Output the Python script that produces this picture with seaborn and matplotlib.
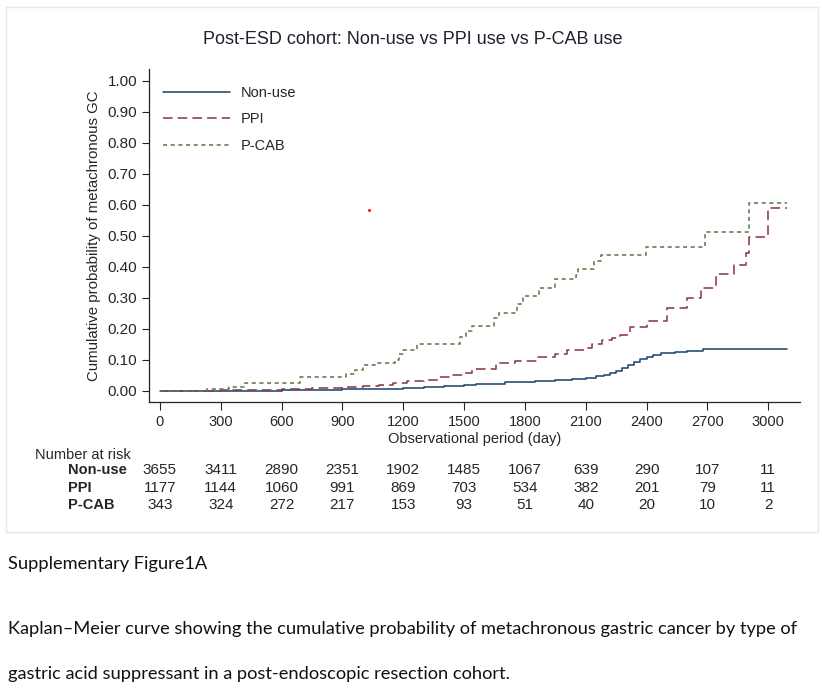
import numpy as np
import pandas as pd
import seaborn as sns
import matplotlib.pyplot as plt
from matplotlib.lines import Line2D
from matplotlib.patches import Rectangle

# 1. data
groups = ["Non-use", "PPI", "P-CAB"]

nonuse_day = [0, 200, 400, 600, 750, 900, 1000, 1100, 1200, 1300, 1400, 1500,
              1560, 1620, 1700, 1760, 1850, 1950, 2030, 2100, 2150, 2190, 2220,
              2250, 2280, 2310, 2340, 2370, 2400, 2430, 2470, 2540, 2600, 2680,
              3092]
nonuse_prob = [0.0, 0.0005, 0.0015, 0.003, 0.004, 0.005, 0.0065, 0.008, 0.010,
               0.012, 0.015, 0.018, 0.021, 0.024, 0.028, 0.030, 0.033, 0.036,
               0.040, 0.043, 0.047, 0.052, 0.058, 0.066, 0.074, 0.084, 0.094,
               0.103, 0.111, 0.117, 0.122, 0.125, 0.128, 0.134, 0.134]

ppi_day = [0, 300, 450, 600, 750, 900, 1000, 1080, 1150, 1220, 1300, 1370, 1440,
           1500, 1540, 1660, 1750, 1860, 1950, 2010, 2100, 2130, 2180, 2230, 2270,
           2320, 2400, 2500, 2600, 2670, 2745, 2830, 2890, 2905, 3000, 3092]
ppi_prob = [0.0, 0.002, 0.004, 0.006, 0.009, 0.012, 0.015, 0.019, 0.025, 0.031,
            0.037, 0.044, 0.050, 0.057, 0.072, 0.090, 0.097, 0.110, 0.120, 0.131,
            0.140, 0.152, 0.163, 0.170, 0.182, 0.205, 0.227, 0.269, 0.299, 0.331,
            0.376, 0.408, 0.445, 0.498, 0.589, 0.589]

pcab_day = [0, 230, 340, 420, 690, 920, 960, 1000, 1060, 1160, 1180, 1200, 1270,
            1480, 1510, 1540, 1650, 1670, 1760, 1790, 1870, 1950, 2050, 2060, 2140,
            2175, 2395, 2690, 2905, 3092]
pcab_prob = [0.0, 0.006, 0.012, 0.025, 0.044, 0.055, 0.068, 0.085, 0.090, 0.101,
             0.118, 0.131, 0.150, 0.173, 0.195, 0.209, 0.235, 0.253, 0.280, 0.307,
             0.333, 0.360, 0.375, 0.392, 0.418, 0.440, 0.466, 0.514, 0.608, 0.608]

risk_times = [0, 300, 600, 900, 1200, 1500, 1800, 2100, 2400, 2700, 3000]
risk_nonuse = [3655, 3411, 2890, 2351, 1902, 1485, 1067, 639, 290, 107, 11]
risk_ppi = [1177, 1144, 1060, 991, 869, 703, 534, 382, 201, 79, 11]
risk_pcab = [343, 324, 272, 217, 153, 93, 51, 40, 20, 10, 2]

# stray red dot in the original picture
stray_day = [1031]
stray_prob = [0.584]

title = "Post-ESD cohort: Non-use vs PPI use vs P-CAB use"
caption1 = "Supplementary Figure1A"
caption2 = ("Kaplan\u2013Meier curve showing the cumulative probability of "
            "metachronous gastric cancer by type of")
caption3 = "gastric acid suppressant in a post-endoscopic resection cohort."

# 2. style
sns.set_style("ticks")
plt.rcParams["font.family"] = ["Liberation Sans", "DejaVu Sans"]

colors = {"Non-use": "#1f4770", "PPI": "#8b3a48", "P-CAB": "#66774c"}
dashes = {"Non-use": "", "PPI": (6, 3.2), "P-CAB": (2.6, 2.2)}

df = pd.concat([
    pd.DataFrame({"day": d, "prob": p, "group": g})
    for g, d, p in zip(groups, [nonuse_day, ppi_day, pcab_day],
                       [nonuse_prob, ppi_prob, pcab_prob])
], ignore_index=True)

W, H = 822, 688
fig = plt.figure(figsize=(W / 100, H / 100), dpi=100)
ax = fig.add_axes([149 / W, 1 - 402 / H, 651 / W, 333 / H])

sns.lineplot(data=df, x="day", y="prob", hue="group", style="group",
             hue_order=groups, style_order=groups, palette=colors,
             dashes=dashes, estimator=None, drawstyle="steps-post",
             linewidth=1.15, legend=False, ax=ax)
sns.scatterplot(x=stray_day, y=stray_prob, color="#e8201c", s=5,
                linewidth=0, ax=ax)

ax.set_xlim(-54, 3157)
ax.set_ylim(-0.0355, 1.0387)
ax.set_xticks(risk_times)
yt = np.round(np.arange(0, 1.01, 0.1), 2)
ax.set_yticks(yt)
ax.set_yticklabels([f"{v:.2f}" for v in yt])
sns.despine(ax=ax)
for s in ["left", "bottom"]:
    ax.spines[s].set_linewidth(0.9)
    ax.spines[s].set_color("#222222")
ax.tick_params(axis="x", length=6, width=0.8, pad=3, labelsize=10.5,
               color="#222222")
ax.tick_params(axis="y", length=5, width=0.8, pad=3.5, labelsize=11,
               color="#222222")
ax.set_xlabel("Observational period (day)", fontsize=10.5, labelpad=2.5)
ax.set_ylabel("Cumulative probability of metachronous GC", fontsize=10.8,
              labelpad=5)

# legend
handles = []
for g in groups:
    h = Line2D([], [], color=colors[g], linewidth=1.15)
    if dashes[g]:
        h.set_dashes(dashes[g])
    handles.append(h)
ax.legend(handles, groups, loc="upper left", frameon=False, fontsize=10.5,
          bbox_to_anchor=(163 / W, 1 - 86 / H), bbox_transform=fig.transFigure,
          borderaxespad=0, borderpad=0, handlelength=4.6, handletextpad=0.7,
          labelspacing=0.85)

# 3. number at risk table
trans = ax.get_xaxis_transform()
fig.text(35 / W, 1 - 455 / H, "Number at risk", fontsize=10.5, va="center")
for g, counts, py in zip(groups, [risk_nonuse, risk_ppi, risk_pcab],
                         [470, 488, 505]):
    fig.text(68 / W, 1 - py / H, g, fontsize=10.5, fontweight="bold",
             va="center")
    for t, n in zip(risk_times, counts):
        ax.text(t, (402 - py) / 333, str(n), transform=trans, fontsize=11,
                ha="center", va="center")

fig.text(413 / W, 1 - 40 / H, title, fontsize=13, ha="center", va="center",
         color="#1c2230")

# light frame round the chart
fig.patches.append(Rectangle((6 / W, 1 - 532 / H), 812 / W, 525 / H,
                             transform=fig.transFigure, fill=False,
                             edgecolor="#e6e6e6", linewidth=1))

# 4. caption below the chart, fitted to the width of the long line
cap_font = ["Lato", "DejaVu Sans"]
probe = fig.text(0, 0, caption2, fontsize=12, family=cap_font)
fig.canvas.draw()
wpx = probe.get_window_extent().width
probe.remove()
cap_size = 12 * 788 / wpx
for txt, base in zip([caption1, caption2, caption3], [569, 634, 679]):
    fig.text(8 / W, 1 - base / H, txt, fontsize=cap_size, family=cap_font,
             va="baseline", color="#111111")

fig.savefig("out.png", dpi=100)
